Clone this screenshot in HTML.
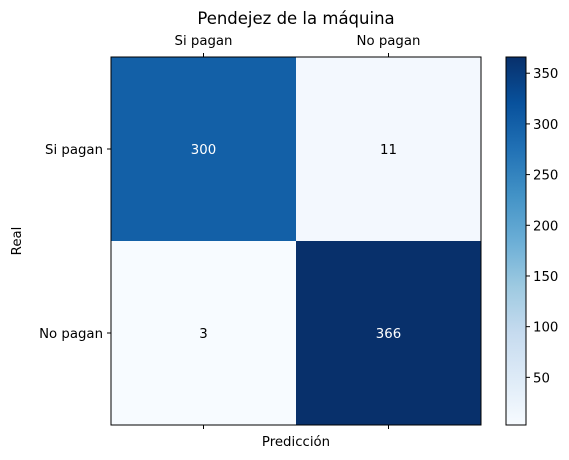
<!DOCTYPE html>
<html><head><meta charset="utf-8"><style>
html,body{margin:0;padding:0;background:#fff;width:569px;height:460px;overflow:hidden}
svg{font-family:"DejaVu Sans","Liberation Sans",sans-serif}
</style></head><body>
<svg id="chart" width="569" height="460" xmlns="http://www.w3.org/2000/svg">
<defs><linearGradient id="cbg" x1="0" y1="1" x2="0" y2="0">
<stop offset="0" stop-color="#f7fbff"/><stop offset="0.125" stop-color="#deebf7"/><stop offset="0.25" stop-color="#c6dbef"/><stop offset="0.375" stop-color="#9ecae1"/><stop offset="0.5" stop-color="#6baed6"/><stop offset="0.625" stop-color="#4292c6"/><stop offset="0.75" stop-color="#2171b5"/><stop offset="0.875" stop-color="#08519c"/><stop offset="1" stop-color="#08306b"/>
</linearGradient></defs>
<text x="296" y="24" text-anchor="middle" font-size="16.5">Pendejez de la máquina</text>
<text x="296" y="446" text-anchor="middle" font-size="13.3">Predicción</text>
<text transform="translate(21,241) rotate(-90)" text-anchor="middle" font-size="13.3">Real</text>
<g id="cells"></g>
<rect x="111" y="57" width="370" height="368" fill="none" stroke="#000" stroke-width="1"/>
<rect x="506" y="57" width="20" height="368" fill="url(#cbg)" stroke="#000" stroke-width="1"/>
<g id="cbticks"></g>
</svg>
<script>
const categories = ["Si pagan", "No pagan"];
const rowValues0 = [300, 11];
const rowValues1 = [3, 366];
const cbTicks = [50, 100, 150, 200, 250, 300, 350];
const matrix = [rowValues0, rowValues1];
const NS = "http://www.w3.org/2000/svg";
const svg = document.getElementById('chart');
const X0 = 111, Y0 = 57, W = 370, H = 368;
const all = matrix.flat();
const vmin = Math.min(...all), vmax = Math.max(...all);
const stops = ["#f7fbff","#deebf7","#c6dbef","#9ecae1","#6baed6","#4292c6","#2171b5","#08519c","#08306b"];
function hex(h){return [1,3,5].map(i=>parseInt(h.substr(i,2),16));}
function color(v){
  let t=(v-vmin)/(vmax-vmin); t=Math.max(0,Math.min(1,t));
  const p=t*(stops.length-1), i=Math.min(Math.floor(p),stops.length-2), f=p-i;
  const a=hex(stops[i]), b=hex(stops[i+1]);
  return "rgb("+a.map((c,k)=>Math.round(c+(b[k]-c)*f)).join(",")+")";
}
const n = categories.length, cw = W/n, ch = H/n;
function xc(j){return X0+cw*(j+0.5);}
function yc(i){return Y0+ch*(i+0.5);}
function mk(tag, attrs, parent){const e=document.createElementNS(NS,tag);for(const k in attrs)e.setAttribute(k,attrs[k]);(parent||svg).appendChild(e);return e;}
const g = document.getElementById('cells');
matrix.forEach((row,i)=>row.forEach((v,j)=>{
  const r = mk('rect',{x:X0+cw*j,y:Y0+ch*i,width:cw,height:ch,fill:color(v)},g);
  
  
  const t = mk('text',{x:xc(j),y:yc(i)+5,'text-anchor':'middle','font-size':13.3,fill:((v-vmin)/(vmax-vmin)>0.5)?'#fff':'#000'},g);
  t.textContent = v;
  
  
}));
categories.forEach((c,j)=>{
  mk('line',{x1:xc(j),x2:xc(j),y1:Y0,y2:Y0-4,stroke:'#000'});
  mk('line',{x1:xc(j),x2:xc(j),y1:Y0+H,y2:Y0+H+4,stroke:'#000'});
  const t = mk('text',{x:xc(j),y:Y0-12,'text-anchor':'middle','font-size':13.3});
  t.textContent = c;
  
  
  mk('line',{x1:X0,x2:X0-4,y1:yc(j),y2:yc(j),stroke:'#000'});
  const t2 = mk('text',{x:X0-8,y:yc(j)+5,'text-anchor':'end','font-size':13.3});
  t2.textContent = c;
  
  
});
const cg = document.getElementById('cbticks');
cbTicks.forEach(v=>{
  const y = Y0+H-(v-vmin)/(vmax-vmin)*H;
  mk('line',{x1:526,x2:530,y1:y,y2:y,stroke:'#000'},cg);
  const t = mk('text',{x:533,y:y+5,'font-size':13.3},cg);
  t.textContent = v;
  
  
});
</script>
</body></html>
